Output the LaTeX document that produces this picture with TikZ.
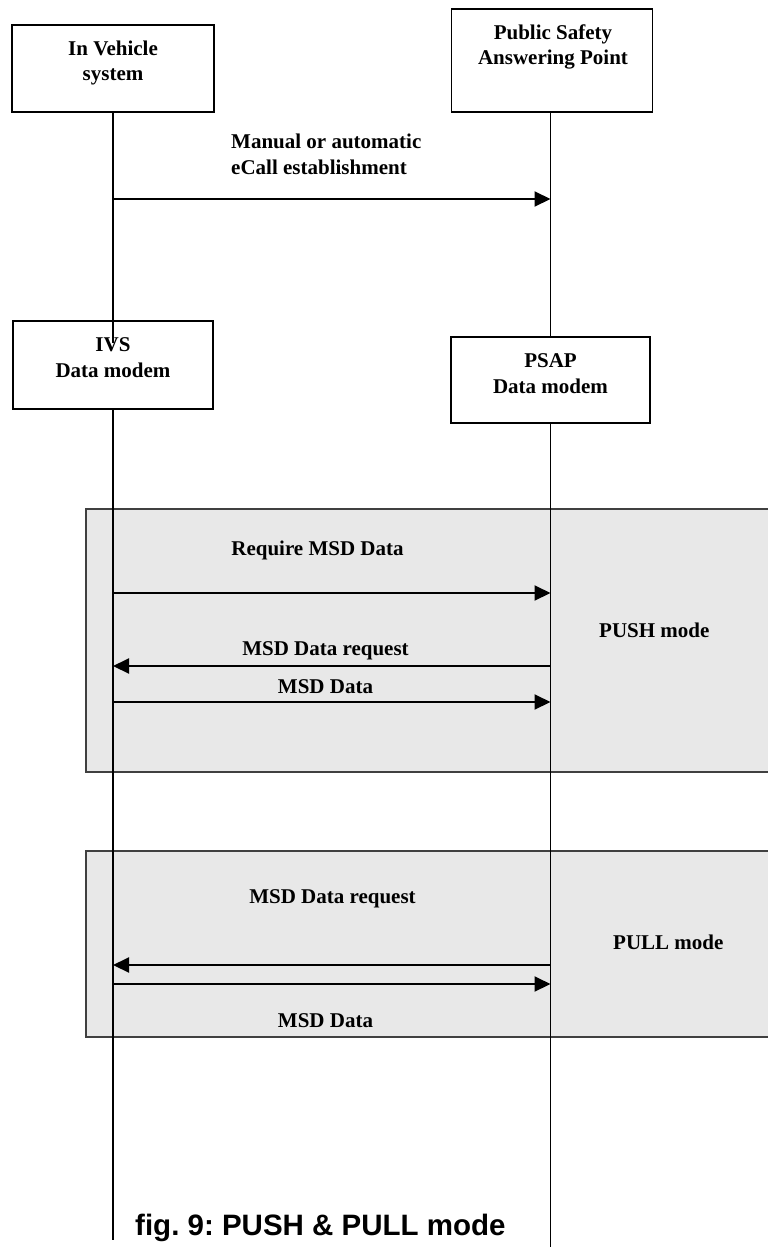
\documentclass[tikz,border=0pt]{standalone}
\usepackage{fontspec}
\setmainfont{Liberation Serif}
\newfontfamily\capfont{Liberation Sans}
\usetikzlibrary{arrows.meta}
\frenchspacing
\begin{document}
\begin{tikzpicture}[x=1pt,y=-1pt,
  box/.style={draw=black,line width=1.8pt,fill=white,inner sep=0pt},
  lbl/.style={font=\fontsize{21}{25.5}\selectfont\bfseries,inner sep=0pt,align=center},
  lifel/.style={line width=2pt},
  lifer/.style={line width=1.3pt},
  msg/.style={line width=2pt,-{Triangle[length=16pt,width=15pt]}},
  modebox/.style={draw=black!75,line width=1.3pt,fill=black!9}]
\useasboundingbox[fill=white] (0,0) rectangle (768,1247);
% mode areas
\path[modebox] (86,509) rectangle (790,772);
\path[modebox] (86,851) rectangle (790,1037);
% entity boxes
\node[box,minimum width=202pt,minimum height=87pt] (ivsys) at (113,68.5) {};
\node[box,minimum width=201pt,minimum height=103pt] (psapt) at (552,60.5) {};
\node[box,minimum width=200pt,minimum height=88pt] (ivsm) at (113,365) {};
\node[box,minimum width=199pt,minimum height=86pt] (psapm) at (550.5,380) {};
\node[lbl,anchor=base] (tivsys) at (113,81) {In Vehicle\\system};
\node[lbl,anchor=base] (tpsapt) at (553,65) {Public Safety\\Answering Point};
\node[lbl,anchor=base] (tivsm) at (113,377) {IVS\\Data modem};
\node[lbl,anchor=base] (tpsapm) at (550.5,393) {PSAP\\Data modem};
% lifelines
\coordinate (ivsin) at (113,343);
\coordinate (lend) at (113,1240);
\coordinate (rend) at (550.5,1247);
\draw[lifel] (ivsys.south) -- (ivsin);
\draw[lifel] (ivsm.south) -- (lend);
\draw[lifer] (psapt.south -| psapm.north) -- (psapm.north);
\draw[lifer] (psapm.south) -- (rend);
% messages
\coordinate (m1a) at (113,199);  \coordinate (m1b) at (550.5,199);
\coordinate (m2a) at (113,593);  \coordinate (m2b) at (550.5,593);
\coordinate (m3a) at (550.5,666); \coordinate (m3b) at (113,666);
\coordinate (m4a) at (113,702);  \coordinate (m4b) at (550.5,702);
\coordinate (m5a) at (550.5,965); \coordinate (m5b) at (113,965);
\coordinate (m6a) at (113,984);  \coordinate (m6b) at (550.5,984);
\draw[msg] (m1a) -- (m1b);
\draw[msg] (m2a) -- (m2b);
\draw[msg] (m3a) -- (m3b);
\draw[msg] (m4a) -- (m4b);
\draw[msg] (m5a) -- (m5b);
\draw[msg] (m6a) -- (m6b);
% labels
\node[lbl,align=left,anchor=base west] (t1) at (231,174) {Manual or automatic\\eCall establishment};
\node[lbl,anchor=base] (t2) at (317.5,555) {Require MSD Data};
\node[lbl,anchor=base] (t3) at (325.5,655) {MSD Data request};
\node[lbl,anchor=base] (t4) at (325.5,693) {MSD Data};
\node[lbl,anchor=base west] (tpush) at (599,637) {PUSH mode};
\node[lbl,anchor=base] (t5) at (332.5,903) {MSD Data request};
\node[lbl,anchor=base] (t6) at (325.5,1027) {MSD Data};
\node[lbl,anchor=base west] (tpull) at (613,949) {PULL mode};
\node[inner sep=0pt,anchor=base west,font=\capfont\fontsize{29.5}{32}\selectfont\bfseries] (cap) at (135,1235) {fig. 9: PUSH \& PULL mode};
\end{tikzpicture}
\end{document}
